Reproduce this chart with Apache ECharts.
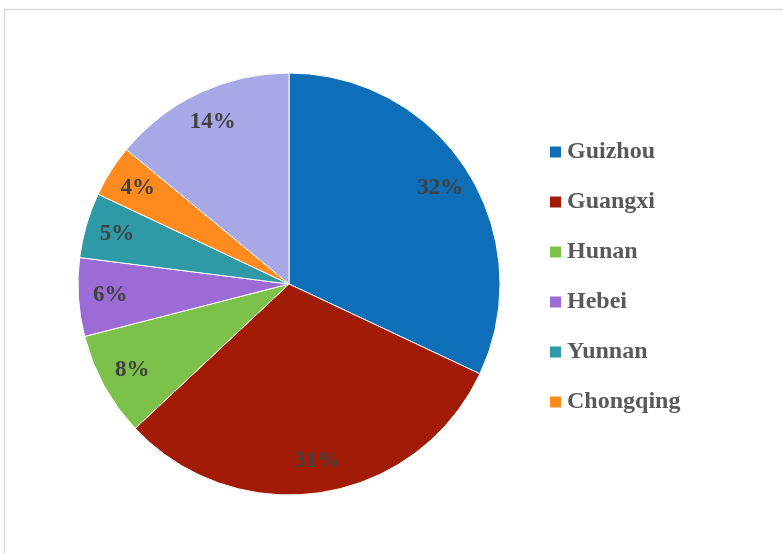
<!DOCTYPE html>
<html>
<head>
<meta charset="utf-8">
<script src="https://cdn.jsdelivr.net/npm/echarts@6/dist/echarts.min.js"></script>
<style>
  html, body { margin: 0; padding: 0; background: #fff; }
  #pie { width: 783px; height: 554px; }
</style>
</head>
<body>
<div id="pie"></div>
<script>
// provinces, clockwise from 12 o'clock
const provinces = ['Guizhou', 'Guangxi', 'Hunan', 'Hebei', 'Yunnan', 'Chongqing', 'Others'];
const shares = [32, 31, 8, 6, 5, 4, 14];
const colors = ['#0f6eb8', '#a21b06', '#7cc24a', '#9c6bd6', '#2f9aa6', '#ff8b1e', '#a8a8e6'];
// the last slice has no legend entry
const legendNames = provinces.slice(0, 6);

const chart = echarts.init(document.getElementById('pie'));

const data = provinces.map(function (p, i) {
    return { name: p, value: shares[i], itemStyle: { color: colors[i] } };
});

const option = {
    animation: false,
    graphic: [{
        type: 'rect',
        shape: { x: 4.5, y: 9.5, width: 800, height: 600 },
        style: { fill: 'none', stroke: '#d9d9d9', lineWidth: 1.5 },
        silent: true
    }],
    legend: {
        data: legendNames,
        orient: 'vertical',
        left: 548,
        top: 140,
        padding: 0,
        itemWidth: 13,
        itemHeight: 13,
        itemGap: 26,
        icon: 'rect',
        textStyle: {
            fontFamily: 'Liberation Serif',
            fontWeight: 'bold',
            fontSize: 24,
            color: '#595959'
        }
    },
    series: [
        {
            type: 'pie',
            center: [289, 284],
            radius: [0, 211],
            startAngle: 90,
            clockwise: true,
            data: data,
            itemStyle: { borderColor: '#fff', borderWidth: 1 },
            label: { show: false },
            labelLine: { show: false },
            emphasis: { disabled: true }
        },
        {
            // transparent ring that only carries the percent labels
            type: 'pie',
            center: [289, 284],
            radius: [156, 196],
            startAngle: 90,
            clockwise: true,
            silent: true,
            data: data.map(function (d) {
                return { name: d.name, value: d.value, itemStyle: { color: 'rgba(0,0,0,0)' } };
            }),
            label: {
                show: true,
                position: 'inside',
                formatter: '{c}%',
                fontFamily: 'Liberation Serif',
                fontWeight: 'bold',
                fontSize: 23,
                color: '#404040'
            },
            labelLine: { show: false },
            emphasis: { disabled: true }
        }
    ]
};

chart.setOption(option);
</script>
</body>
</html>
